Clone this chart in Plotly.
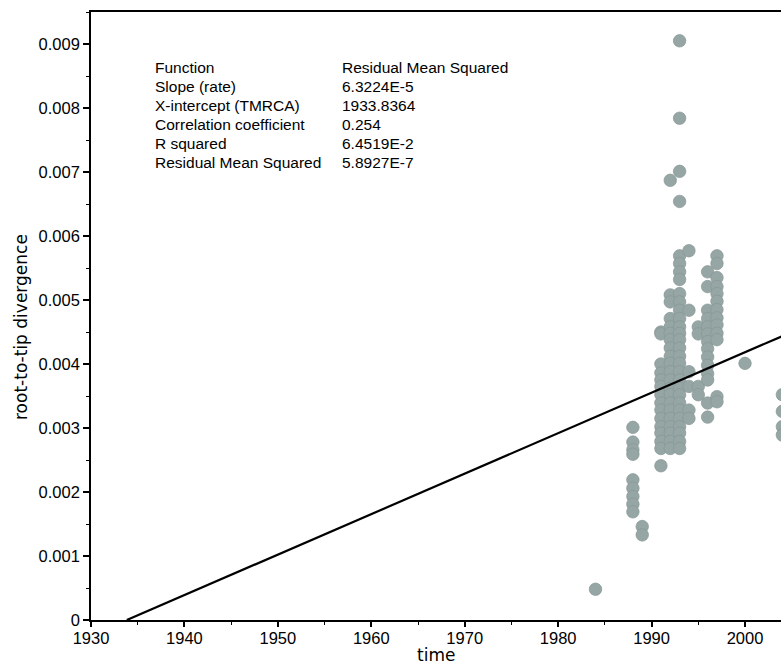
import plotly.graph_objects as go

# Root-to-tip divergence of each sampled sequence, grouped by sampling year
sampling_years = [1984, 1988, 1989, 1991, 1992, 1993, 1994, 1995, 1996, 1997, 2000, 2004]
divergence_by_year = [
    [0.00048],
    [0.00301, 0.00278, 0.00266, 0.00259, 0.00219, 0.00206, 0.00193, 0.00181, 0.00169],
    [0.00146, 0.00133],
    [0.00450, 0.00447, 0.00400, 0.00386, 0.00375, 0.00365, 0.00352, 0.00339, 0.00328,
     0.00315, 0.00302, 0.00292, 0.00279, 0.00268, 0.00241],
    [0.00687, 0.00508, 0.00497, 0.00471, 0.00458, 0.00448, 0.00438, 0.00425, 0.00412,
     0.00401, 0.00388, 0.00375, 0.00362, 0.00352, 0.00339, 0.00328, 0.00315, 0.00302,
     0.00292, 0.00279, 0.00268],
    [0.00905, 0.00784, 0.00701, 0.00654, 0.00569, 0.00557, 0.00544, 0.00532, 0.00510,
     0.00497, 0.00484, 0.00471, 0.00458, 0.00448, 0.00438, 0.00425, 0.00412, 0.00401,
     0.00388, 0.00375, 0.00362, 0.00352, 0.00339, 0.00328, 0.00315, 0.00302, 0.00292,
     0.00279, 0.00268],
    [0.00577, 0.00484, 0.00388, 0.00365, 0.00328, 0.00315],
    [0.00458, 0.00447, 0.00365, 0.00352],
    [0.00544, 0.00521, 0.00484, 0.00471, 0.00458, 0.00447, 0.00435, 0.00424, 0.00411,
     0.00398, 0.00385, 0.00375, 0.00339, 0.00317],
    [0.00569, 0.00557, 0.00535, 0.00521, 0.00510, 0.00498, 0.00485, 0.00472, 0.00461,
     0.00448, 0.00438, 0.00349, 0.00341],
    [0.00401],
    [0.00352, 0.00326, 0.00302, 0.00289],
]

# Regression summary
stat_names = ["Function", "Slope (rate)", "X-intercept (TMRCA)",
              "Correlation coefficient", "R squared", "Residual Mean Squared"]
stat_values = ["Residual Mean Squared", "6.3224E-5", "1933.8364",
               "0.254", "6.4519E-2", "5.8927E-7"]
slope = 6.3224e-5
x_intercept = 1933.8364

# Axis ticks
x_ticks = [1930, 1940, 1950, 1960, 1970, 1980, 1990, 2000]
y_ticks = [0, 0.001, 0.002, 0.003, 0.004, 0.005, 0.006, 0.007, 0.008, 0.009]
y_tick_text = ["0", "0.001", "0.002", "0.003", "0.004", "0.005",
               "0.006", "0.007", "0.008", "0.009"]

W, H = 781, 665
ML, MR, MT, MB = 91, 0, 12, 45
PW, PH = W - ML - MR, H - MT - MB

times, divs = [], []
for yr, vals in zip(sampling_years, divergence_by_year):
    times += [yr] * len(vals)
    divs += vals

fig = go.Figure()
fig.add_trace(go.Scatter(
    x=times, y=divs, mode="markers",
    marker=dict(size=12.5, color="#96a6a4", line=dict(width=0.7, color="#879795")),
    showlegend=False, hoverinfo="skip",
))

line_x = [x_intercept, 2010]
line_y = [slope * (t - x_intercept) for t in line_x]
fig.add_trace(go.Scatter(
    x=line_x, y=line_y, mode="lines",
    line=dict(color="black", width=2.2), showlegend=False, hoverinfo="skip",
))

tick_font = dict(family="Liberation Sans, Arial, sans-serif", size=16.5, color="black")
stat_font = dict(family="Liberation Sans, Arial, sans-serif", size=15.5, color="black")
title_font = dict(family="DejaVu Sans, sans-serif", size=17, color="black")

fig.update_layout(
    width=W, height=H,
    margin=dict(l=ML, r=MR, t=MT, b=MB, pad=0),
    paper_bgcolor="white", plot_bgcolor="white",
    showlegend=False,
    xaxis=dict(
        range=[1930, 1930 + PW / (654 / 70)],
        tickvals=x_ticks, ticktext=[str(v) for v in x_ticks],
        ticks="outside", ticklen=5, tickwidth=1.5, tickcolor="black",
        ticklabelstandoff=-3,
        minor=dict(dtick=5, ticks="outside", ticklen=3, tickwidth=1.2, tickcolor="black"),
        showline=True, linecolor="black", linewidth=1.6, mirror=True,
        showgrid=False, zeroline=False, tickfont=tick_font,
    ),
    yaxis=dict(
        range=[0, PH / 64000],
        tickvals=y_ticks, ticktext=y_tick_text,
        ticks="outside", ticklen=6, tickwidth=1.5, tickcolor="black",
        minor=dict(dtick=0.0005, ticks="outside", ticklen=3, tickwidth=1.2, tickcolor="black"),
        showline=True, linecolor="black", linewidth=1.6, mirror=False,
        showgrid=False, zeroline=False, tickfont=tick_font,
    ),
)

def px_x(px):
    return (px - ML) / PW

def px_y(py):
    return (H - MB - py) / PH

annotations = []
row_y = [68, 87, 106, 125, 144, 162]
for name, val, ry in zip(stat_names, stat_values, row_y):
    annotations.append(dict(text=name, xref="paper", yref="paper", x=px_x(153), y=px_y(ry),
                            xanchor="left", yanchor="middle", showarrow=False, font=stat_font))
    annotations.append(dict(text=val, xref="paper", yref="paper", x=px_x(340), y=px_y(ry),
                            xanchor="left", yanchor="middle", showarrow=False, font=stat_font))

annotations.append(dict(text="root-to-tip divergence", xref="paper", yref="paper",
                        x=px_x(21), y=px_y(327), textangle=-90,
                        xanchor="center", yanchor="middle", showarrow=False, font=title_font))
annotations.append(dict(text="time", xref="paper", yref="paper",
                        x=0.5, y=px_y(655), xanchor="center", yanchor="middle",
                        showarrow=False, font=title_font))
fig.update_layout(annotations=annotations)

fig.write_html("out.html")
